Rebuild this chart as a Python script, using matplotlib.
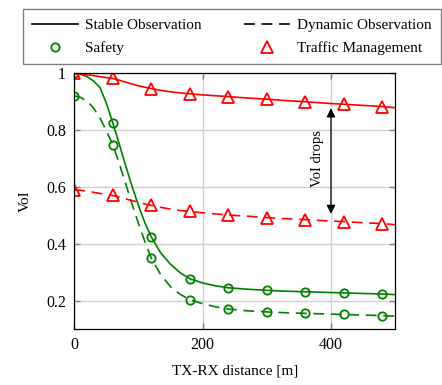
import matplotlib
matplotlib.use('Agg')
import matplotlib.pyplot as plt
from matplotlib.lines import Line2D
import numpy as np

plt.rcParams['font.family'] = ['Liberation Serif', 'DejaVu Serif']
plt.rcParams['font.size'] = 11

# TX-RX distance [m]
dist = np.array([0, 10, 20, 30, 40, 50, 60, 70, 80, 90, 100, 110, 120, 135, 150,
                 165, 180, 200, 220, 240, 270, 300, 330, 360, 390, 420, 450, 480, 500])

safety_stable = [1.000, 0.997, 0.988, 0.973, 0.950, 0.895, 0.826, 0.752, 0.676, 0.602,
                 0.535, 0.474, 0.424, 0.367, 0.328, 0.298, 0.277, 0.262, 0.252, 0.245,
                 0.240, 0.236, 0.233, 0.231, 0.229, 0.227, 0.225, 0.223, 0.221]
safety_dynamic = [0.921, 0.915, 0.902, 0.878, 0.843, 0.798, 0.749, 0.683, 0.612, 0.540,
                  0.472, 0.408, 0.349, 0.290, 0.249, 0.222, 0.203, 0.189, 0.178, 0.170,
                  0.164, 0.160, 0.157, 0.155, 0.153, 0.151, 0.149, 0.147, 0.145]
traffic_stable = [1.000, 0.998, 0.995, 0.992, 0.988, 0.985, 0.982, 0.976, 0.969, 0.962,
                  0.956, 0.951, 0.946, 0.940, 0.935, 0.931, 0.928, 0.924, 0.921, 0.918,
                  0.913, 0.909, 0.904, 0.900, 0.895, 0.891, 0.887, 0.883, 0.879]
traffic_dynamic = [0.590, 0.588, 0.585, 0.581, 0.577, 0.574, 0.570, 0.564, 0.558, 0.552,
                   0.546, 0.540, 0.535, 0.528, 0.522, 0.517, 0.514, 0.509, 0.505, 0.501,
                   0.497, 0.492, 0.488, 0.485, 0.481, 0.478, 0.474, 0.471, 0.467]

# markers sit every 60 m
marks = list(dist % 60 == 0)

green = '#007f00'
red = '#ff0000'
dash = (6.5, 4)

fig = plt.figure(figsize=(4.42, 3.85), dpi=100)
ax = fig.add_axes([0.168, 0.1455, 0.726, 0.6641])

ax.plot(dist, safety_stable, color=green, lw=1.2, marker='o', ms=6, mfc='none',
        mew=1.3, markevery=marks)
ax.plot(dist, safety_dynamic, color=green, lw=1.2, dashes=dash, marker='o', ms=6,
        mfc='none', mew=1.3, markevery=marks)
ax.plot(dist, traffic_stable, color=red, lw=1.2, marker='^', ms=8, mfc='none',
        mew=1.3, markevery=marks)
ax.plot(dist, traffic_dynamic, color=red, lw=1.2, dashes=dash, marker='^', ms=8,
        mfc='none', mew=1.3, markevery=marks)

ax.annotate('', xy=(400, 0.877), xytext=(400, 0.505),
            arrowprops=dict(arrowstyle='<|-|>', color='black', lw=0.9,
                            mutation_scale=13, shrinkA=0, shrinkB=0))
ax.text(379, 0.70, 'VoI drops', rotation=90, ha='center', va='center', fontsize=10.5)

ax.set_xlim(0, 500)
ax.set_ylim(0.1, 1.0)
ax.set_xticks([0, 200, 400])
ax.set_yticks([0.2, 0.4, 0.6, 0.8, 1.0])
ax.set_yticklabels(['0.2', '0.4', '0.6', '0.8', '1'])
ax.grid(True, color='#d0d0d0', lw=1.0)
ax.set_axisbelow(True)
ax.tick_params(direction='in', top=True, right=True, color='#808080', length=4,
               width=1, pad=6, labelsize=11.5)
for s in ax.spines.values():
    s.set_linewidth(0.9)
ax.set_xlabel('TX-RX distance [m]', labelpad=8)
ax.set_ylabel('VoI', labelpad=10)

handles = [Line2D([], [], color='black', lw=1.2),
           Line2D([], [], ls='none', marker='o', ms=6, mfc='none', mew=1.3, mec=green),
           Line2D([], [], color='black', lw=1.2, dashes=dash),
           Line2D([], [], ls='none', marker='^', ms=8, mfc='none', mew=1.3, mec=red)]
labels = ['Stable Observation', 'Safety', 'Dynamic Observation', 'Traffic Management']
leg = ax.legend(handles, labels, ncol=2, loc='lower left', mode='expand',
                bbox_to_anchor=(-0.161, 1.036, 1.304, 0.235), fancybox=False,
                edgecolor='#808080', handlelength=3, handletextpad=0.5,
                labelspacing=0.6, borderpad=0.6, borderaxespad=0, framealpha=1)
leg.get_frame().set_linewidth(1.0)

fig.savefig('out.png', dpi=100)
